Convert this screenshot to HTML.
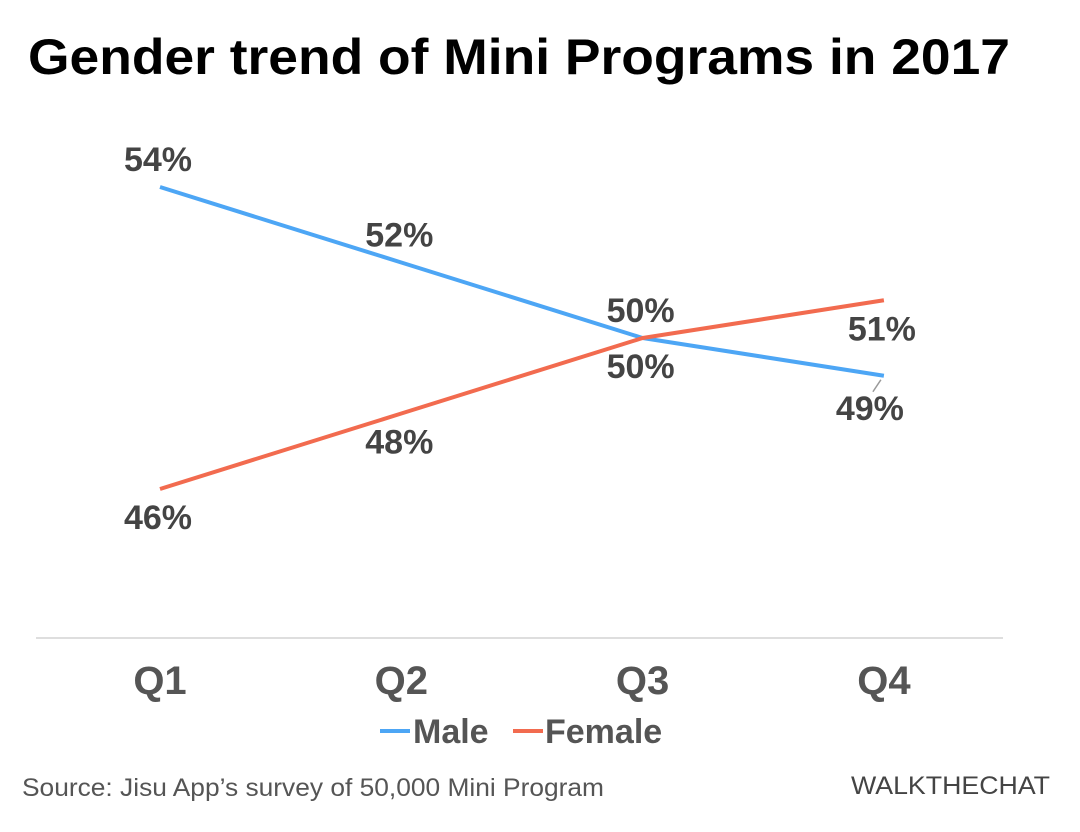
<!DOCTYPE html>
<html><head><meta charset="utf-8"><style>
body{margin:0;background:#fff;width:1080px;height:827px;overflow:hidden;font-family:"Liberation Sans",sans-serif}
</style></head><body>
<svg width="1080" height="827">
<text x="28" y="74" font-size="50" font-weight="bold" fill="#000" textLength="982" lengthAdjust="spacingAndGlyphs">Gender trend of Mini Programs in 2017</text>
<line x1="36" y1="638" x2="1003" y2="638" stroke="#d4d4d4" stroke-width="1.5"/>
<g id="plot"></g>
<g>
<line x1="380" y1="731" x2="410" y2="731" stroke="#4da6f5" stroke-width="4"/>
<text x="413" y="743" font-size="34" font-weight="bold" fill="#555">Male</text>
<line x1="513" y1="731" x2="543" y2="731" stroke="#f26b4f" stroke-width="4"/>
<text x="545" y="743" font-size="34" font-weight="bold" fill="#555">Female</text>
</g>
<text x="22" y="796" font-size="25" fill="#555" textLength="582" lengthAdjust="spacingAndGlyphs">Source: Jisu App’s survey of 50,000 Mini Program</text>
<text x="851" y="794" font-size="25" fill="#444" textLength="199" lengthAdjust="spacingAndGlyphs">WALKTHECHAT</text>
</svg>
<script>
const categories=["Q1","Q2","Q3","Q4"];
const maleValues=[54,52,50,49];
const femaleValues=[46,48,50,51];
const maleLabels=["54%","52%","50%","49%"];
const femaleLabels=["46%","48%","50%","51%"];
const NS="http://www.w3.org/2000/svg";
const g=document.getElementById('plot');
function xs(i){return 160+i*241.3;}
function ys(v){return 338-(v-50)*37.75;}
function mk(tag,attrs){const e=document.createElementNS(NS,tag);for(const k in attrs)e.setAttribute(k,attrs[k]);g.appendChild(e);return e;}
categories.forEach((c,i)=>{
 const t=mk('text',{x:xs(i),y:694,'font-size':40,'font-weight':'bold',fill:'#555','text-anchor':'middle'});
 t.textContent=c;
 
 
});
function series(vals,labels,color,name){
 const p=mk('polyline',{points:vals.map((v,i)=>xs(i)+','+ys(v)).join(' '),fill:'none',stroke:color,'stroke-width':4,'stroke-linejoin':'round'});
 
 
 vals.forEach((v,i)=>{
  let above=(name==='male');
  if(i===3) above=false;
  let dy=above?-16:40;
  let dx=0;
  if(name==='male'&&i===3){dy=44;dx=-12;
   const l=mk('line',{x1:xs(i)-3,y1:ys(v)+4,x2:xs(i)-11,y2:ys(v)+16,stroke:'#999','stroke-width':1.5});
   
   }
  const t=mk('text',{x:xs(i)+dx-2,y:ys(v)+dy,'font-size':34,'font-weight':'bold',fill:'#444','text-anchor':'middle'});
  t.textContent=labels[i];
  
  
 });
}
series(maleValues,maleLabels,'#4da6f5','male');
series(femaleValues,femaleLabels,'#f26b4f','female');
</script>
</body></html>
